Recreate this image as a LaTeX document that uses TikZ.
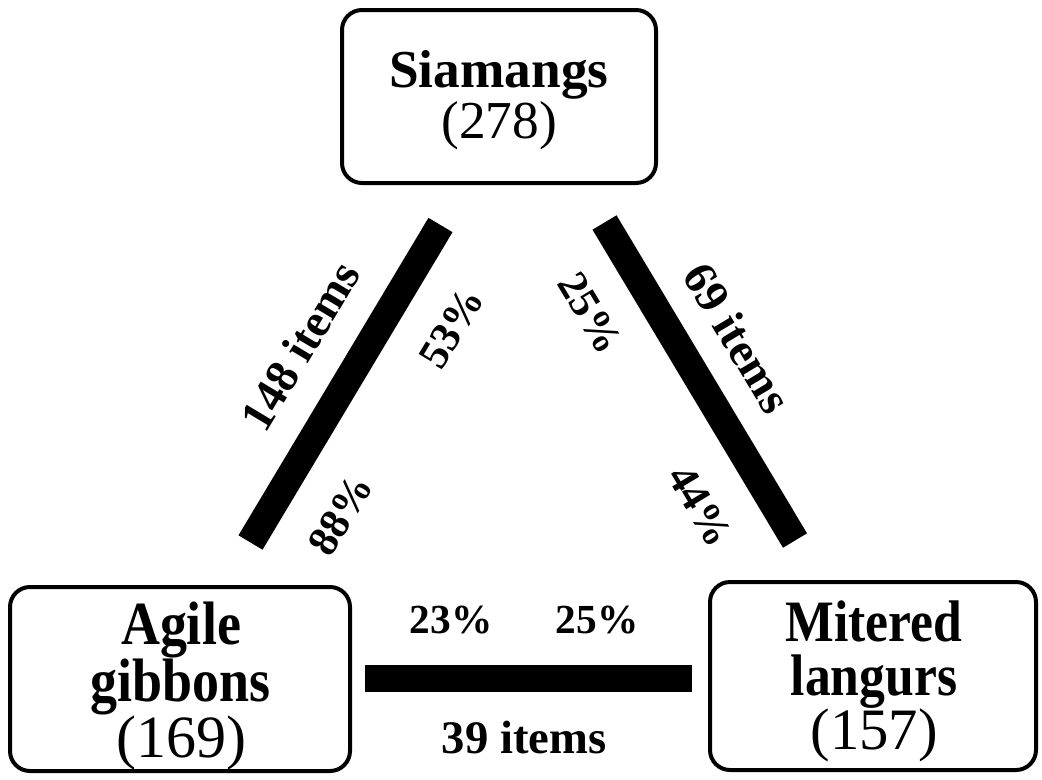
\documentclass[tikz,border=0pt]{standalone}
\usepackage{fontspec}
\setmainfont{Liberation Serif}
% slightly condensed face for the names in the two lower boxes
\newfontfamily\tallserif{Liberation Serif}[FakeStretch=0.88]

\begin{document}
\begin{tikzpicture}[x=0.75pt,y=-0.75pt,
  box/.style={draw, line width=3pt, rounded corners=15pt, inner sep=0pt},
  boxtext/.style={align=center, inner sep=0pt},
  bar/.style={line width=21pt},
  flatbar/.style={line width=20pt},
  pct/.style={font=\bfseries\fontsize{32pt}{32pt}\selectfont, inner sep=0pt},
  cnt/.style={font=\bfseries\fontsize{35pt}{35pt}\selectfont, inner sep=0pt}]
\useasboundingbox (0,0) rectangle (1042,779);

% species boxes
\node[box, minimum width=314*0.75pt, minimum height=173*0.75pt] (siamangs) at (499,96.5) {};
\node[boxtext, font=\fontsize{40pt}{38pt}\selectfont] (siamangsText) at (499,100)
  {\textbf{Siamangs}\\(278)};

\node[box, minimum width=340*0.75pt, minimum height=184*0.75pt] (agile) at (180,679) {};
\node[boxtext, font=\tallserif\fontsize{46pt}{41.5pt}\selectfont] (agileText) at (181,686)
  {\textbf{Agile}\\\textbf{gibbons}\\{\normalfont\fontsize{45pt}{41.5pt}\selectfont(169)}};

\node[box, minimum width=326*0.75pt, minimum height=188*0.75pt] (mitered) at (873,676) {};
\node[boxtext, font=\tallserif\fontsize{44pt}{40.5pt}\selectfont] (miteredText) at (874,681)
  {\textbf{Mitered}\\\textbf{langurs}\\{\normalfont\fontsize{44pt}{40.5pt}\selectfont(157)}};

% link ends
\coordinate (sgTop) at (440.5,225);
\coordinate (sgBot) at (250.5,542.5);
\coordinate (smTop) at (604.5,222.5);
\coordinate (smBot) at (795,540.5);
\coordinate (gmL) at (365,678.5);
\coordinate (gmR) at (692,678.5);

% links
\draw[bar] (sgTop) -- (sgBot);
\draw[bar] (smTop) -- (smBot);
\draw[flatbar] (gmL) -- (gmR);

% Siamangs -- Agile gibbons
\node[cnt, rotate=59] (sgCount) at (300,346) {148 items};
\node[pct, rotate=59] (sgTopPct) at (452,328) {53\%};
\node[pct, rotate=59] (sgBotPct) at (341,515) {88\%};

% Siamangs -- Mitered langurs
\node[cnt, rotate=-59] (smCount) at (738,338) {69 items};
\node[pct, rotate=-59] (smTopPct) at (590,313) {25\%};
\node[pct, rotate=-59] (smBotPct) at (700,506) {44\%};

% Agile gibbons -- Mitered langurs
\node[pct, font=\bfseries\fontsize{31pt}{31pt}\selectfont, anchor=base] (gmLeftPct) at (451,633) {23\%};
\node[pct, font=\bfseries\fontsize{31pt}{31pt}\selectfont, anchor=base] (gmRightPct) at (597,633) {25\%};
\node[cnt, anchor=base] (gmCount) at (524,753) {39 items};
\end{tikzpicture}
\end{document}
